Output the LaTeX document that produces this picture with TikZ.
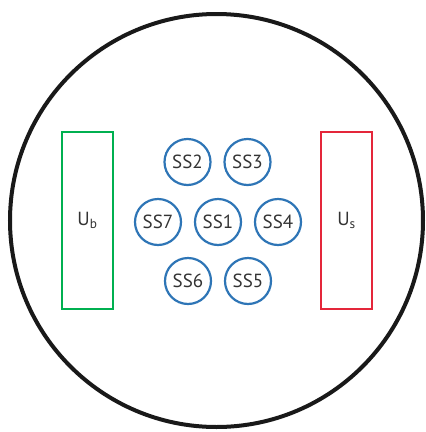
\documentclass[tikz,border=0pt]{standalone}
\usepackage{fontspec}
\setmainfont{PT Sans}
\definecolor{ssblue}{RGB}{46,117,182}
\definecolor{ubgreen}{RGB}{0,176,80}
\definecolor{usred}{RGB}{228,38,58}
\begin{document}
\begin{tikzpicture}[x=1pt, y=-1pt, font=\fontsize{19}{22}\selectfont\color{black!80},
  subsys/.style={draw=ssblue, line width=2.2pt, circle, minimum size=46pt, inner sep=0pt},
  unitbox/.style={draw, line width=2pt, minimum width=51pt, minimum height=177pt, inner sep=0pt}]
\useasboundingbox (0,0) rectangle (426,432);
\clip (0,0) rectangle (426,432);
% outer vessel
\node[draw=black!90, line width=4pt, circle, minimum size=413pt, inner sep=0pt] (vessel) at (216.5,220.5) {};
% bias and signal units
\node[unitbox, draw=ubgreen] (ub) at (87.5,220.5) {U\textsubscript{b}};
\node[unitbox, draw=usred] (us) at (346.5,220.5) {U\textsubscript{s}};
% subsystems
\node[subsys] (ss1) at (218,222) {SS1};
\node[subsys] (ss2) at (187.5,162) {SS2};
\node[subsys] (ss3) at (247.5,162) {SS3};
\node[subsys] (ss4) at (278,222) {SS4};
\node[subsys] (ss5) at (248,281) {SS5};
\node[subsys] (ss6) at (188,281) {SS6};
\node[subsys] (ss7) at (158,222) {SS7};
\end{tikzpicture}
\end{document}
